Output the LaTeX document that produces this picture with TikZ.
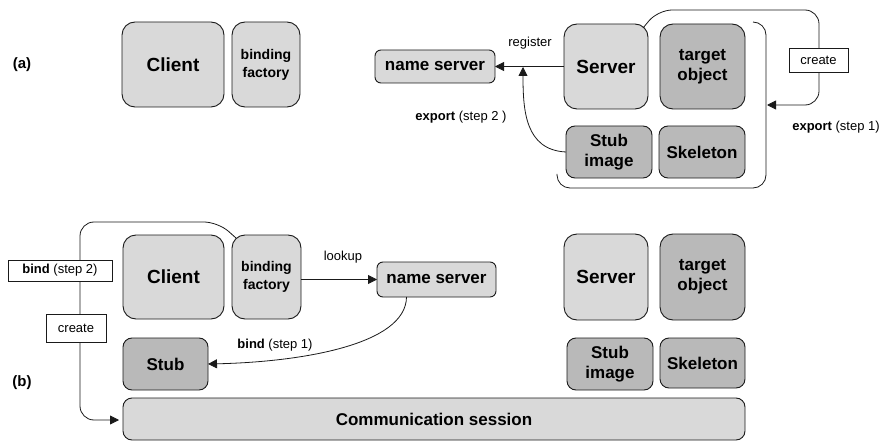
\documentclass[tikz,border=0pt]{standalone}
\usepackage{fontspec}
\setmainfont{Liberation Sans}
\usetikzlibrary{arrows.meta,calc}
\definecolor{boxlight}{HTML}{D9D9D9}
\definecolor{boxdark}{HTML}{B9B9B9}
\definecolor{edge}{HTML}{1A1A1A}

\begin{document}
\begin{tikzpicture}[x=1pt,y=-1pt,
  every node/.style={inner sep=0pt, outer sep=0pt},
  box/.style={draw=edge, line width=0.9pt, align=center,
    font=\bfseries\fontsize{17}{20}\selectfont},
  light/.style={box, fill=boxlight},
  dark/.style={box, fill=boxdark},
  big/.style={rounded corners=13pt},
  mid/.style={rounded corners=9pt},
  small/.style={rounded corners=6pt},
  huge/.style={font=\bfseries\fontsize{19}{22}\selectfont},
  narrow/.style={font=\bfseries\fontsize{14}{18}\selectfont},
  lbl/.style={font=\fontsize{13}{15}\selectfont},
  panel/.style={font=\bfseries\fontsize{15}{18}\selectfont},
  tag/.style={draw=edge, fill=white, line width=0.7pt, font=\fontsize{13}{15}\selectfont},
  conn/.style={draw=edge, line width=0.8pt},
  arr/.style={conn, -{Triangle[length=9pt,width=9pt]}},
]
\useasboundingbox (0,0) rectangle (881,441);

% ---------- panel (a): export ----------
\node[panel] (la) at (22,65) {(a)};
\node[light,big,huge,minimum width=102pt,minimum height=85pt] (clientA) at (173,64.5) {Client};
\node[light,big,narrow,minimum width=68pt,minimum height=85pt] (bfA) at (266,64.5) {binding\\factory};
\node[light,small,minimum width=120pt,minimum height=33pt] (nsA) at (435,66.5) {name server};
\node[light,big,huge,minimum width=84pt,minimum height=85pt] (serverA) at (606,66.5) {Server};
\node[dark,big,minimum width=85pt,minimum height=85pt] (targetA) at (702.5,66.5) {target\\object};
\node[dark,mid,minimum width=86pt,minimum height=52pt] (stubimgA) at (609,152) {Stub\\image};
\node[dark,mid,minimum width=86pt,minimum height=52pt] (skelA) at (702,152) {Skeleton};

\coordinate (regA) at (523,67);
\coordinate (saA) at ($(serverA.north east)+(-5,4)$);

\draw[arr] (serverA.west) -- (nsA.east);
\draw[arr] (stubimgA.west) .. controls (525,150) and (523,110) .. (regA);
\draw[arr, rounded corners=14pt] (saA) -- (658,10) -- (819,10) -- (819,105) -- (767,105);
\draw[conn, rounded corners=13pt] (753,22) -| (766,188) -| (557,174);

\node[lbl] (regLbl) at (530,43) {register};
\node[lbl] (exp2) at (461,117) {\textbf{export} (step 2 )};
\node[lbl] (exp1) at (836,127) {\textbf{export} (step 1)};
\node[tag,minimum width=59pt,minimum height=24pt] (createA) at (818.5,60) {create};

% ---------- panel (b): bind ----------
\node[panel] (lb) at (22,383) {(b)};
\node[light,big,huge,minimum width=101pt,minimum height=84pt] (clientB) at (173.5,277) {Client};
\node[light,big,narrow,minimum width=69pt,minimum height=84pt] (bfB) at (266.5,277) {binding\\factory};
\node[light,small,minimum width=119pt,minimum height=35pt] (nsB) at (436.5,279.5) {name server};
\node[dark,mid,minimum width=85pt,minimum height=52pt] (stubB) at (165.5,364) {Stub};
\node[light,mid,minimum width=622pt,minimum height=42pt] (commB) at (434,419) {Communication session};
\node[light,big,huge,minimum width=84pt,minimum height=86pt] (serverB) at (606,277) {Server};
\node[dark,big,minimum width=85pt,minimum height=86pt] (targetB) at (702.5,277) {target\\object};
\node[dark,mid,minimum width=86pt,minimum height=52pt] (stubimgB) at (610,364) {Stub\\image};
\node[dark,mid,minimum width=85pt,minimum height=50pt] (skelB) at (702.5,363) {Skeleton};

\coordinate (nsOut) at ($(nsB.south)+(-30,0)$);
\coordinate (bfTop) at ($(bfB.north west)+(4,3)$);

\draw[arr] (bfB.east |- nsB.west) -- (nsB.west);
\draw[arr] (nsOut) .. controls (406,345) and (300,362) .. (stubB.east);
\draw[arr, rounded corners=14pt] (bfTop) -- (218,222) -- (80,222) -- (80,420) -- ($(commB.west)+(-4,1)$);

\node[lbl] (lookLbl) at (343,257) {lookup};
\node[lbl] (bind1) at (275,345) {\textbf{bind} (step 1)};
\node[tag,minimum width=104pt,minimum height=21pt] (bindTag) at (60,270.5) {\textbf{bind} (step 2)};
\node[tag,minimum width=60pt,minimum height=28pt] (createB) at (76,328) {create};
\end{tikzpicture}
\end{document}
